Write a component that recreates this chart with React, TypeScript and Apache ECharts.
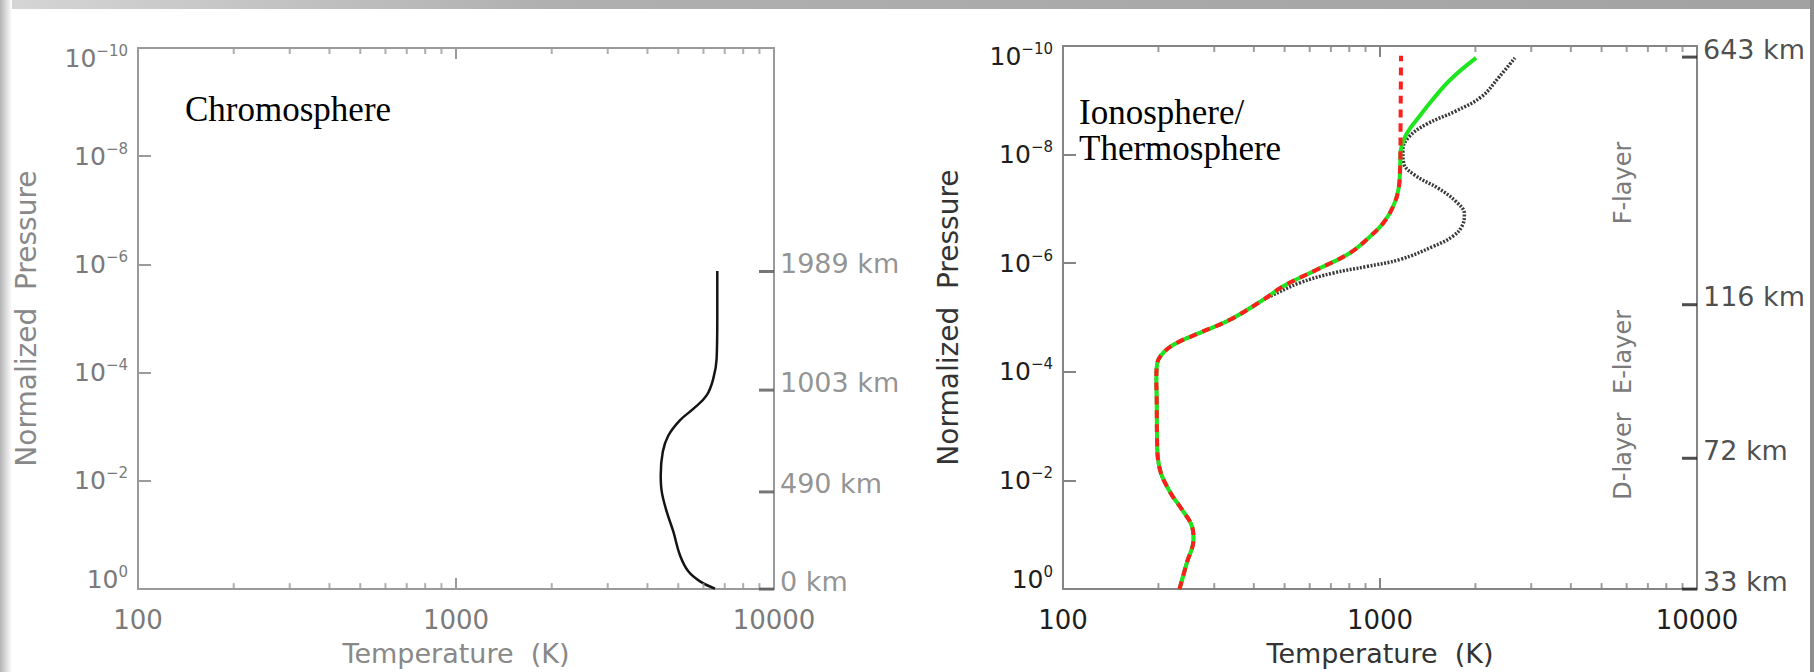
import React, { useEffect, useRef } from 'react';
import * as echarts from 'echarts';

const FONT = '"DejaVu Sans", sans-serif';
const SERIF = '"Liberation Serif", serif';

// ---- Left panel: chromosphere temperature (K) vs normalized pressure ----
const chromoTemp = [6632, 6632, 6600, 6443, 6140, 5571, 5058, 4653, 4470, 4403, 4436, 4598, 4825, 5058, 5376, 5852, 6522];
const chromoPres = [1.32e-6, 1.02e-5, 5.6e-5, 1.29e-4, 2.63e-4, 4.68e-4, 7.6e-4, 1.45e-3, 2.9e-3, 7.9e-3, 1.58e-2, 3.7e-2, 8.7e-2, 0.234, 0.47, 0.72, 0.98];
const chromoKmLabels = ['0 km', '490 km', '1003 km', '1989 km'];
const chromoKmPres = [1, 1.6e-2, 2.1e-4, 1.35e-6];

// ---- Right panel: ionosphere / thermosphere ----
// shared lower profile (all three models)
const lowerTemp = [233, 246, 258, 255, 237, 218, 202, 198, 197.5, 197, 198, 207, 228, 270, 336, 429];
const lowerPres = [1, 0.324, 0.12, 0.0692, 0.0339, 0.0166, 6.17e-3, 1.74e-3, 3.24e-4, 1.38e-4, 7.24e-5, 4.47e-5, 2.95e-5, 1.91e-5, 1.1e-5, 4.68e-6];
// shared middle section (green + red models)
const midTemp = [496, 631, 804, 929, 1024, 1101, 1143, 1157, 1160];
const midPres = [2.63e-6, 1.32e-6, 6.46e-7, 3.24e-7, 1.82e-7, 8.91e-8, 4.47e-8, 1.91e-8, 9.33e-9];
// red dashed top
const redTopTemp = [1161, 1163, 1165];
const redTopPres = [3.16e-9, 6.3e-10, 1.51e-10];
// green top
const greenTopTemp = [1200, 1250, 1305, 1460, 1663, 2010];
const greenTopPres = [4.68e-9, 3.16e-9, 2.29e-9, 1e-9, 4.22e-10, 1.66e-10];
// black dotted upper branch
const dotTopTemp = [450, 559, 713, 908, 1157, 1472, 1700, 1820, 1846, 1733, 1527, 1289, 1187, 1181, 1236, 1402, 1733, 2094, 2376, 2664];
const dotTopPres = [4.07e-6, 2.29e-6, 1.51e-6, 1.15e-6, 8.51e-7, 4.9e-7, 3.16e-7, 2.0e-7, 1.23e-7, 7.24e-8, 4.17e-8, 2.4e-8, 1.41e-8, 8.13e-9, 4.68e-9, 2.75e-9, 1.58e-9, 8.51e-10, 3.72e-10, 1.66e-10];
const ionoKmLabels = ['33 km', '72 km', '116 km', '643 km'];
const ionoKmPres = [1, 3.9e-3, 5.8e-6, 1.6e-10];

const minorTicks = [200, 300, 400, 500, 600, 700, 800, 900, 2000, 3000, 4000, 5000, 6000, 7000, 8000, 9000];
const layerNames = ['F-layer', 'E-layer', 'D-layer'];

const pairs = (t: number[], p: number[]) => t.map((v, i) => [v, p[i]]);

const yLabel = (v: number) => {
  const e = Math.round(Math.log10(v));
  const s = e === 0 ? '0' : '\u2212' + String(-e);
  if (e <= -10) return `{g| }\n{b|10}{s|${s}}`;
  if (e >= 0) return `{b|10}{s|${s}}\n{g| }`;
  return `{b|10}{s|${s}}`;
};

type Pal = { axis: string; label: string; name: string; km: string; kmTick: string };

function panelAxes(gi: number, pal: Pal) {
  const line = { lineStyle: { color: pal.axis, width: 2 } };
  const xb = {
    type: 'log', gridIndex: gi, position: 'bottom', min: 100, max: 10000, interval: 1,
    axisLine: line,
    axisTick: { inside: true, length: 11, lineStyle: { color: pal.axis, width: 2 } },
    axisLabel: { color: pal.label, fontFamily: FONT, fontSize: 26, lineHeight: 30, margin: 16, showMinLabel: true, showMaxLabel: true, formatter: (v: number) => String(Math.round(v)) },
    splitLine: { show: false },
    name: 'Temperature  (K)', nameLocation: 'middle', nameGap: 50,
    nameTextStyle: { color: pal.name, fontFamily: FONT, fontSize: 27 },
  };
  const xt = {
    type: 'log', gridIndex: gi, position: 'top', min: 100, max: 10000, interval: 1,
    axisLine: line,
    axisTick: { inside: true, length: 11, lineStyle: { color: pal.axis, width: 2 } },
    axisLabel: { show: false }, splitLine: { show: false },
  };
  const yl = {
    type: 'log', gridIndex: gi, position: 'left', min: 1e-10, max: 1, interval: 2, inverse: true,
    axisLine: line,
    axisTick: { inside: true, length: 13, lineStyle: { color: pal.axis, width: 2 } },
    axisLabel: {
      margin: 10, formatter: yLabel, showMinLabel: true, showMaxLabel: true,
      rich: {
        b: { fontFamily: FONT, fontSize: 25, lineHeight: 30, color: pal.label },
        s: { fontFamily: FONT, fontSize: 15, lineHeight: 15, verticalAlign: 'top', color: pal.label },
        g: { fontSize: 10, lineHeight: 20 },
      },
    },
    splitLine: { show: false },
    name: 'Normalized  Pressure', nameLocation: 'middle', nameGap: gi === 0 ? 98 : 101,
    nameTextStyle: { color: pal.name, fontFamily: FONT, fontSize: 28 },
  };
  const yr = {
    type: 'log', gridIndex: gi, position: 'right', min: 1e-10, max: 1, inverse: true,
    axisLine: line, axisTick: { show: false }, axisLabel: { show: false }, splitLine: { show: false },
  };
  return { xb, xt, yl, yr };
}

function tickSeries(xi: number, yi: number, pal: Pal, kmLabels: string[], kmPres: number[]) {
  const base = { type: 'scatter', xAxisIndex: xi, yAxisIndex: yi, silent: true, clip: false, symbol: 'rect', z: 4 };
  return [
    { ...base, data: minorTicks.map((t) => [t, 1]), symbolSize: [2, 6], symbolOffset: [0, -3], itemStyle: { color: pal.axis } },
    { ...base, data: minorTicks.map((t) => [t, 1e-10]), symbolSize: [2, 6], symbolOffset: [0, 3], itemStyle: { color: pal.axis } },
    {
      ...base,
      data: kmPres.map((p, i) => ({ value: [10000, p], name: kmLabels[i] })),
      symbolSize: [15, 3], symbolOffset: [-7.5, 0], itemStyle: { color: pal.kmTick },
      label: { show: true, position: 'right', distance: 6, offset: [0, -8], formatter: '{b}', color: pal.km, fontFamily: FONT, fontSize: 27 },
    },
  ];
}

const leftPal: Pal = { axis: '#9a9a9a', label: '#7a7a7a', name: '#888888', km: '#777777', kmTick: '#555555' };
const rightPal: Pal = { axis: '#858585', label: '#1e1e1e', name: '#333333', km: '#1e1e1e', kmTick: '#222222' };

function buildOption() {
  const a0 = panelAxes(0, leftPal);
  const a1 = panelAxes(1, rightPal);
  const lineBase = { type: 'line', showSymbol: false, symbol: 'none', smooth: 0.4, silent: true, clip: false };
  return {
    animation: false,
    backgroundColor: '#ffffff',
    textStyle: { fontFamily: FONT },
    grid: [
      { left: 138, top: 48, width: 636, height: 543 },
      { left: 1063, top: 46, width: 634, height: 544 },
    ],
    xAxis: [a0.xb, a0.xt, a1.xb, a1.xt],
    yAxis: [a0.yl, a0.yr, a1.yl, a1.yr],
    series: [
      { ...lineBase, xAxisIndex: 0, yAxisIndex: 0, data: pairs(chromoTemp, chromoPres), lineStyle: { color: '#141414', width: 2.5 } },
      ...tickSeries(0, 0, leftPal, chromoKmLabels, chromoKmPres),
      {
        ...lineBase, xAxisIndex: 2, yAxisIndex: 2,
        data: [...pairs(lowerTemp, lowerPres), ...pairs(dotTopTemp, dotTopPres)],
        lineStyle: { color: '#3a3a3a', width: 3.5, type: [2, 1.5] },
      },
      {
        ...lineBase, xAxisIndex: 2, yAxisIndex: 2,
        data: [...pairs(lowerTemp, lowerPres), ...pairs(midTemp, midPres), ...pairs(greenTopTemp, greenTopPres)],
        lineStyle: { color: '#1ee61e', width: 4 },
      },
      {
        ...lineBase, xAxisIndex: 2, yAxisIndex: 2,
        data: [...pairs(lowerTemp, lowerPres), ...pairs(midTemp, midPres), ...pairs(redTopTemp, redTopPres)],
        lineStyle: { color: '#ff1e1e', width: 4, type: [8, 6] },
      },
      ...tickSeries(2, 2, rightPal, ionoKmLabels, ionoKmPres),
    ],
    graphic: [
      { type: 'rect', z: -10, shape: { x: 0, y: 0, width: 1814, height: 9 }, style: { fill: new echarts.graphic.LinearGradient(0, 0, 1, 0, [{ offset: 0, color: '#d6d6d6' }, { offset: 0.3, color: '#b0b0b0' }, { offset: 1, color: '#a2a2a2' }]) } },
      { type: 'rect', z: -10, shape: { x: 0, y: 0, width: 12, height: 672 }, style: { fill: new echarts.graphic.LinearGradient(0, 0, 1, 0, [{ offset: 0, color: '#b4b4b4' }, { offset: 1, color: '#ffffff' }]) } },
      { type: 'rect', z: -10, shape: { x: 1810, y: 0, width: 4, height: 672 }, style: { fill: '#8e8e8e' } },
      { type: 'text', x: 185, y: 109, style: { text: 'Chromosphere', font: `35px ${SERIF}`, fill: '#000', textAlign: 'left', textVerticalAlign: 'middle', align: 'left', verticalAlign: 'middle' } },
      { type: 'text', x: 1079, y: 112, style: { text: 'Ionosphere/', font: `35px ${SERIF}`, fill: '#000', textAlign: 'left', textVerticalAlign: 'middle', align: 'left', verticalAlign: 'middle' } },
      { type: 'text', x: 1079, y: 148, style: { text: 'Thermosphere', font: `35px ${SERIF}`, fill: '#000', textAlign: 'left', textVerticalAlign: 'middle', align: 'left', verticalAlign: 'middle' } },
      ...layerNames.map((t, i) => ({
        type: 'text', x: 1623, y: [183, 352, 456][i], rotation: Math.PI / 2,
        style: { text: t, font: `24px ${FONT}`, fill: '#7a7a7a', textAlign: 'center', textVerticalAlign: 'middle', align: 'center', verticalAlign: 'middle' },
      })),
    ],
  };
}

export default function App() {
  const ref = useRef<HTMLDivElement>(null);
  useEffect(() => {
    const chart = echarts.init(ref.current!, null, { renderer: 'svg' });
    chart.setOption(buildOption() as any);
    return () => chart.dispose();
  }, []);
  return <div ref={ref} style={{ position: 'fixed', left: 0, top: 0, width: 1814, height: 672, background: '#fff' }} />;
}
